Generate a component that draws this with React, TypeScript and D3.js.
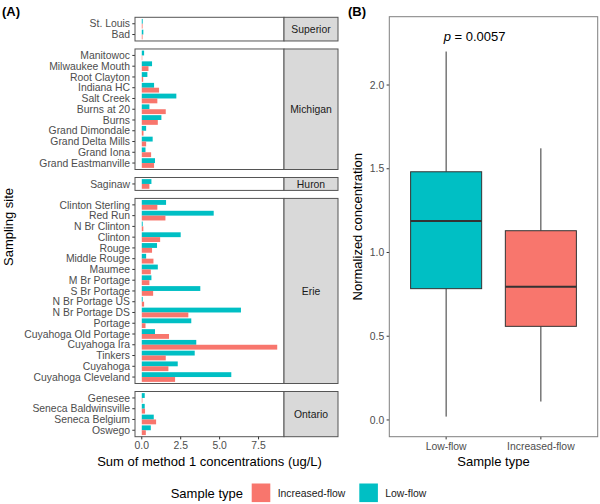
import React from "react";
import * as d3 from "d3";

// ---------- Data ----------
const lakes = ["Superior", "Michigan", "Huron", "Erie", "Ontario"];
const sites = [
  "St. Louis", "Bad",
  "Manitowoc", "Milwaukee Mouth", "Root Clayton", "Indiana HC", "Salt Creek", "Burns at 20", "Burns",
  "Grand Dimondale", "Grand Delta Mills", "Grand Iona", "Grand Eastmanville",
  "Saginaw",
  "Clinton Sterling", "Red Run", "N Br Clinton", "Clinton", "Rouge", "Middle Rouge", "Maumee",
  "M Br Portage", "S Br Portage", "N Br Portage US", "N Br Portage DS", "Portage",
  "Cuyahoga Old Portage", "Cuyahoga Ira", "Tinkers", "Cuyahoga", "Cuyahoga Cleveland",
  "Genesee", "Seneca Baldwinsville", "Seneca Belgium", "Oswego",
];
const siteLake = [
  "Superior", "Superior",
  "Michigan", "Michigan", "Michigan", "Michigan", "Michigan", "Michigan", "Michigan",
  "Michigan", "Michigan", "Michigan", "Michigan",
  "Huron",
  "Erie", "Erie", "Erie", "Erie", "Erie", "Erie", "Erie",
  "Erie", "Erie", "Erie", "Erie", "Erie",
  "Erie", "Erie", "Erie", "Erie", "Erie",
  "Ontario", "Ontario", "Ontario", "Ontario",
];
const lowFlow = [
  0.06, 0.1,
  0.15, 0.66, 0.36, 0.79, 2.22, 0.49, 1.26,
  0.28, 0.7, 0.24, 0.85,
  0.62,
  1.56, 4.62, 0.06, 2.5, 0.98, 0.28, 1.03,
  0.62, 3.76, 0.06, 6.37, 3.18,
  0.85, 3.5, 3.4, 2.31, 5.75,
  0.19, 0.19, 0.77, 0.58,
];
const increasedFlow = [
  0.05, 0.05,
  0.03, 0.43, 0.09, 1.11, 1.0, 1.54, 1.03,
  0.11, 0.28, 0.6, 0.79,
  0.49,
  1.0, 1.52, 0.1, 1.18, 0.66, 0.75, 0.58,
  0.49, 0.73, 0.15, 2.99, 0.24,
  1.75, 8.7, 1.54, 1.71, 2.14,
  0.04, 0.21, 0.92, 0.26,
];
const xTicksA = [0, 2.5, 5, 7.5];

const sampleTypes = ["Low-flow", "Increased-flow"];
const whiskerLow = [0.02, 0.11];
const q1 = [0.784, 0.559];
const median = [1.188, 0.796];
const q3 = [1.482, 1.13];
const whiskerHigh = [2.2, 1.622];
const yTicksB = [0, 0.5, 1, 1.5, 2];
const pLabel = "0.0057";

const legendOrder = ["Increased-flow", "Low-flow"];

// ---------- Styles ----------
const TEAL = "#00BFC4";
const RED = "#F8766D";
const FONT = "'Liberation Sans', Arial, sans-serif";
const TICK_TEXT = "#4D4D4D";

export default function App() {
  const W = 600, H = 504;

  // Panel A layout
  const aLeft = 135, aRight = 284, stripRight = 338;
  const aTop = 17.3, aBottom = 436.7, gap = 8;
  const counts = lakes.map((l) => siteLake.filter((s) => s === l).length);
  const totalUnits = d3.sum(counts, (n) => n + 0.2);
  const u = (aBottom - aTop - gap * (lakes.length - 1)) / totalUnits;
  const maxV = d3.max([...lowFlow, ...increasedFlow]) as number;
  const xA = d3.scaleLinear().domain([-0.05 * maxV, 1.05 * maxV]).range([aLeft, aRight]);

  let cursor = aTop;
  const panels = lakes.map((lake, i) => {
    const h = (counts[i] + 0.2) * u;
    const top = cursor;
    cursor += h + gap;
    const siteList = sites.filter((_, j) => siteLake[j] === lake);
    const y = d3.scalePoint<string>().domain(siteList).range([top, top + h]).padding(0.6);
    return { lake, top, h, siteList, y };
  });

  // Panel B layout
  const bLeft = 389.3, bRight = 597.7, bTop = 16.7, bBottom = 436.7;
  const yB = d3.scaleLinear().domain([-0.1, 2.408]).range([bBottom, bTop]);
  const xB = d3.scalePoint<string>().domain(sampleTypes).range([bLeft, bRight]).padding(0.6);
  const step = xB.step();
  const boxW = step * 0.75;

  const barH = u * 0.45;

  return (
    <svg width={W} height={H} style={{ position: "absolute", left: 0, top: 0, background: "#fff" }} fontFamily={FONT}>
      <rect x={0} y={0} width={W} height={H} fill="#fff" />
      {/* Panel A */}
      <text x={2} y={16} fontSize={13} fontWeight="bold" fill="#000">(A)</text>
      {panels.map((p) => (
        <g key={p.lake}>
          <rect x={aLeft} y={p.top} width={aRight - aLeft} height={p.h} fill="#fff" />
          {p.siteList.map((s) => {
            const idx = sites.indexOf(s);
            const cy = p.y(s) as number;
            return (
              <g key={s}>
                <rect x={xA(0)} y={cy - barH} width={xA(lowFlow[idx]) - xA(0)} height={barH} fill={TEAL} />
                <rect x={xA(0)} y={cy} width={xA(increasedFlow[idx]) - xA(0)} height={barH} fill={RED} />
                <line x1={aLeft - 2.7} x2={aLeft} y1={cy} y2={cy} stroke="#333" strokeWidth={1} />
                <text x={aLeft - 5} y={cy} dy="0.35em" textAnchor="end" fontSize={10.4} fill={TICK_TEXT}>{s}</text>
              </g>
            );
          })}
          <rect x={aLeft} y={p.top} width={aRight - aLeft} height={p.h} fill="none" stroke="#555" strokeWidth={1} />
          <rect x={aRight} y={p.top} width={stripRight - aRight} height={p.h} fill="#D9D9D9" stroke="#555" strokeWidth={1} />
          <text x={(aRight + stripRight) / 2} y={p.top + p.h / 2} dy="0.35em" textAnchor="middle" fontSize={10.4} fill="#1A1A1A">{p.lake}</text>
        </g>
      ))}
      {xTicksA.map((t) => (
        <g key={t}>
          <line x1={xA(t)} x2={xA(t)} y1={aBottom} y2={aBottom + 2.7} stroke="#333" />
          <text x={xA(t)} y={aBottom + 12} textAnchor="middle" fontSize={10.4} fill={TICK_TEXT}>{t.toFixed(1)}</text>
        </g>
      ))}
      <text x={(aLeft + aRight) / 2} y={466} textAnchor="middle" fontSize={13} fill="#000">Sum of method 1 concentrations (ug/L)</text>
      <text transform={`translate(13,${(aTop + aBottom) / 2}) rotate(-90)`} textAnchor="middle" fontSize={13} fill="#000">Sampling site</text>

      {/* Panel B */}
      <text x={348} y={16} fontSize={13} fontWeight="bold" fill="#000">(B)</text>
      <rect x={bLeft} y={bTop} width={bRight - bLeft} height={bBottom - bTop} fill="#fff" />
      {sampleTypes.map((s, i) => {
        const cx = xB(s) as number;
        const fill = s === "Low-flow" ? TEAL : RED;
        return (
          <g key={s}>
            <line x1={cx} x2={cx} y1={yB(q3[i])} y2={yB(whiskerHigh[i])} stroke="#333" strokeWidth={1} />
            <line x1={cx} x2={cx} y1={yB(q1[i])} y2={yB(whiskerLow[i])} stroke="#333" strokeWidth={1} />
            <rect x={cx - boxW / 2} y={yB(q3[i])} width={boxW} height={yB(q1[i]) - yB(q3[i])} fill={fill} stroke="#333" strokeWidth={1} />
            <line x1={cx - boxW / 2} x2={cx + boxW / 2} y1={yB(median[i])} y2={yB(median[i])} stroke="#333" strokeWidth={2} />
            <line x1={cx} x2={cx} y1={bBottom} y2={bBottom + 2.7} stroke="#333" />
            <text x={cx} y={bBottom + 13} textAnchor="middle" fontSize={10.4} fill={TICK_TEXT}>{s}</text>
          </g>
        );
      })}
      <text x={(xB(sampleTypes[0]) as number) + step * 0.3} y={yB(2.29)} dy="0.35em" textAnchor="middle" fontSize={13} fill="#000">
        <tspan fontStyle="italic">p</tspan> = {pLabel}
      </text>
      {yTicksB.map((t) => (
        <g key={t}>
          <line x1={bLeft - 2.7} x2={bLeft} y1={yB(t)} y2={yB(t)} stroke="#333" />
          <text x={bLeft - 5} y={yB(t)} dy="0.35em" textAnchor="end" fontSize={10.4} fill={TICK_TEXT}>{t.toFixed(1)}</text>
        </g>
      ))}
      <rect x={bLeft} y={bTop} width={bRight - bLeft} height={bBottom - bTop} fill="none" stroke="#7F7F7F" strokeWidth={1} />
      <text x={(bLeft + bRight) / 2} y={466} textAnchor="middle" fontSize={13} fill="#000">Sample type</text>
      <text transform={`translate(362,${(bTop + bBottom) / 2}) rotate(-90)`} textAnchor="middle" fontSize={13} fill="#000">Normalized concentration</text>

      {/* Legend */}
      <text x={170.7} y={493} dy="0.35em" fontSize={13} fill="#000">Sample type</text>
      {legendOrder.map((s, i) => {
        const kx = i === 0 ? 251.7 : 359.3;
        return (
          <g key={s}>
            <rect x={kx} y={483.5} width={18.6} height={18.6} fill={s === "Low-flow" ? TEAL : RED} />
            <text x={kx + 26} y={493} dy="0.35em" fontSize={10.4} fill="#1A1A1A">{s}</text>
          </g>
        );
      })}
    </svg>
  );
}
